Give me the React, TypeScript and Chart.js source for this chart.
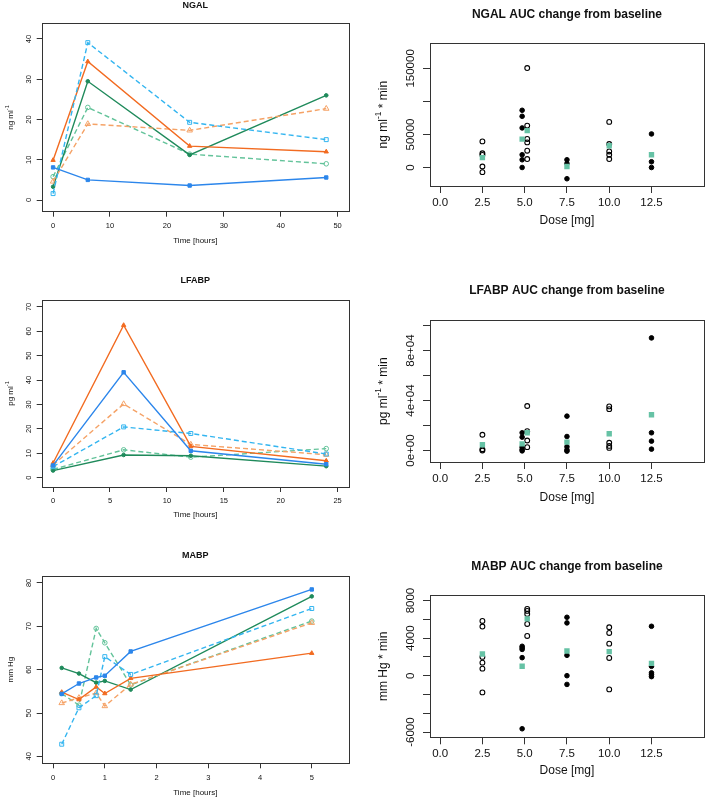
import React, { useEffect, useRef } from "react";
import { Chart, registerables } from "chart.js";

Chart.register(...registerables);

const FONT = "'Liberation Sans', Arial, Helvetica, sans-serif";

// ---------------- NGAL time course ----------------
const ngalTime = [0, 6.1, 24, 48];
const ngalBlueSolid = [8.1, 5.0, 3.6, 5.6];
const ngalCyanDashed = [1.6, 39.1, 19.3, 15.0];
const ngalOrangeSolid = [9.9, 34.4, 13.4, 12.0];
const ngalOrangeDashed = [4.6, 18.9, 17.3, 22.7];
const ngalGreenSolid = [3.3, 29.5, 11.2, 26.0];
const ngalGreenDashed = [5.8, 23.0, 11.4, 9.0];
const ngalXTicks = [0, 10, 20, 30, 40, 50];
const ngalYTicks = [0, 10, 20, 30, 40];
const ngalYLabels = ["0", "10", "20", "30", "40"];

// ---------------- LFABP time course ----------------
const lfabpTime = [0, 6.2, 12.1, 24];
const lfabpBlueSolid = [5.0, 43.2, 11.0, 5.5];
const lfabpCyanDashed = [4.5, 20.8, 18.1, 9.7];
const lfabpOrangeSolid = [6.0, 62.5, 12.8, 6.9];
const lfabpOrangeDashed = [5.2, 30.2, 13.6, 9.4];
const lfabpGreenSolid = [2.9, 9.3, 9.0, 4.7];
const lfabpGreenDashed = [3.4, 11.4, 8.4, 11.9];
const lfabpXTicks = [0, 5, 10, 15, 20, 25];
const lfabpYTicks = [0, 10, 20, 30, 40, 50, 60, 70];
const lfabpYLabels = ["0", "10", "20", "30", "40", "50", "60", "70"];

// ---------------- MABP time course ----------------
const mabpTime = [0.167, 0.5, 0.833, 1, 1.5, 5];
const mabpBlueSolid = [54.4, 56.8, 58.2, 58.6, 64.2, 78.5];
const mabpCyanDashed = [42.8, 51.2, 54.0, 63.0, 58.9, 74.1];
const mabpOrangeSolid = [54.8, 53.1, 56.0, 54.5, 58.0, 63.8];
const mabpOrangeDashed = [52.3, 53.5, 54.6, 51.6, 56.6, 70.8];
const mabpGreenSolid = [60.4, 59.1, 57.0, 57.4, 55.4, 76.9];
const mabpGreenDashed = [54.5, 51.8, 69.5, 66.2, 56.5, 71.2];
const mabpXTicks = [0, 1, 2, 3, 4, 5];
const mabpYTicks = [40, 50, 60, 70, 80];
const mabpYLabels = ["40", "50", "60", "70", "80"];

// ---------------- AUC scatter panels ----------------
const doseTicks = [0, 2.5, 5, 7.5, 10, 12.5];

const ngalAucOpenDose = [2.5, 2.5, 2.5, 2.5, 2.5, 5.15, 5.15, 5.15, 5.15, 5.15, 5.15, 10, 10, 10, 10, 10];
const ngalAucOpenVal = [39500, 21500, 19000, 1500, -7000, 150500, 63400, 43200, 38000, 25400, 12800, 69000, 35600, 24300, 19300, 12800];
const ngalAucFilledDose = [4.85, 4.85, 4.85, 4.85, 4.85, 4.85, 7.5, 7.5, 7.5, 12.5, 12.5, 12.5];
const ngalAucFilledVal = [86600, 77500, 59900, 19300, 11700, 0, 11700, 6000, -17000, 50800, 8700, 0];
const ngalAucMeanDose = [2.5, 4.85, 5.15, 7.5, 10, 12.5];
const ngalAucMeanVal = [15000, 43000, 55800, 1500, 33000, 19300];
const ngalAucYTicks = [0, 50000, 100000, 150000];
const ngalAucYLabels = ["0", "50000", "", "150000"];

const lfabpAucOpenDose = [2.5, 2.5, 2.5, 5.15, 5.15, 5.15, 5.15, 10, 10, 10, 10, 10];
const lfabpAucOpenVal = [12600, 1000, 0, 35600, 15500, 8000, 2700, 35300, 33100, 6200, 3700, 2100];
const lfabpAucFilledDose = [4.85, 4.85, 4.85, 4.85, 4.85, 7.5, 7.5, 7.5, 7.5, 7.5, 12.5, 12.5, 12.5, 12.5];
const lfabpAucFilledVal = [14200, 10700, 2700, 800, -300, 27500, 11200, 3000, 500, -500, 90100, 14200, 7500, 1100];
const lfabpAucMeanDose = [2.5, 4.85, 5.15, 7.5, 10, 12.5];
const lfabpAucMeanVal = [4600, 5300, 14200, 6700, 13400, 28600];
const lfabpAucYTicks = [0, 20000, 40000, 60000, 80000, 100000];
const lfabpAucYLabels = ["0e+00", "", "4e+04", "", "8e+04", ""];

const mabpAucOpenDose = [2.5, 2.5, 2.5, 2.5, 2.5, 2.5, 5.15, 5.15, 5.15, 5.15, 5.15, 10, 10, 10, 10, 10];
const mabpAucOpenVal = [5830, 5230, 2000, 1390, 750, -1780, 7110, 6900, 6580, 5510, 4230, 5160, 4550, 3410, 1890, -1460];
const mabpAucFilledDose = [4.85, 4.85, 4.85, 4.85, 4.85, 7.5, 7.5, 7.5, 7.5, 7.5, 12.5, 12.5, 12.5, 12.5, 12.5];
const mabpAucFilledVal = [3130, 2960, 2800, 1920, -5650, 6220, 5620, 2170, 0, -930, 5260, 1000, 300, 100, -100];
const mabpAucMeanDose = [2.5, 4.85, 5.15, 7.5, 10, 12.5];
const mabpAucMeanVal = [2310, 1000, 6050, 2630, 2560, 1310];
const mabpAucYTicks = [-6000, -4000, -2000, 0, 2000, 4000, 6000, 8000];
const mabpAucYLabels = ["-6000", "", "", "0", "", "4000", "", "8000"];

// ---------------- styling ----------------
const C_BLUE = "#2C86EB";
const C_CYAN = "#33B5F0";
const C_ORANGE = "#F26B21";
const C_ORANGE_L = "#F5A266";
const C_GREEN = "#1F8A5B";
const C_GREEN_L = "#63C39A";
const C_MEAN = "#66C2A5";

type Part = { t: string; sup?: boolean };

const pts = (xs: number[], ys: number[]) => xs.map((x, i) => ({ x, y: ys[i] }));

function lineDs(xs: number[], ys: number[], color: string, dashed: boolean, style: string, filled: boolean, r: number) {
  return {
    data: pts(xs, ys),
    showLine: true,
    borderColor: color,
    backgroundColor: color,
    borderWidth: 1.4,
    borderDash: dashed ? [5, 3] : [],
    pointStyle: style,
    pointRadius: r,
    pointBorderColor: color,
    pointBackgroundColor: filled ? color : "rgba(0,0,0,0)",
    pointBorderWidth: 1,
    tension: 0,
  };
}

function aucDs(openD: number[], openV: number[], filledD: number[], filledV: number[], meanD: number[], meanV: number[]) {
  return [
    {
      data: pts(meanD, meanV),
      pointStyle: "rect",
      pointRadius: 3.8,
      pointBackgroundColor: C_MEAN,
      pointBorderColor: C_MEAN,
      pointBorderWidth: 0,
    },
    {
      data: pts(filledD, filledV),
      pointStyle: "circle",
      pointRadius: 2.3,
      pointBackgroundColor: "#000",
      pointBorderColor: "#000",
      pointBorderWidth: 1,
    },
    {
      data: pts(openD, openV),
      pointStyle: "circle",
      pointRadius: 2.4,
      pointBackgroundColor: "rgba(0,0,0,0)",
      pointBorderColor: "#000",
      pointBorderWidth: 1.1,
    },
  ];
}

type PanelCfg = {
  left: number; top: number; w: number; h: number;
  box: { l: number; t: number; r: number; b: number };
  xMin: number; xMax: number; yMin: number; yMax: number;
  xTicks: number[]; yTicks: number[]; yLabels: string[];
  xFmt: (v: number) => string;
  datasets: any[];
  title: string; xTitle: string; yTitle: Part[];
  titleSize: number; axisSize: number; tickSize: number;
  titleGap: number; xTitleGap: number; yTitleX: number; yTickGap: number;
  tickLen: number; xTickPad: number;
};

function drawRich(ctx: CanvasRenderingContext2D, parts: Part[], cx: number, cy: number, size: number, rotate: boolean, bold = false) {
  ctx.save();
  ctx.translate(cx, cy);
  if (rotate) ctx.rotate(-Math.PI / 2);
  const fontFor = (p: Part) => `${bold ? "bold " : ""}${p.sup ? size * 0.7 : size}px ${FONT}`;
  const widths = parts.map((p) => {
    ctx.font = fontFor(p);
    return ctx.measureText(p.t).width;
  });
  const total = widths.reduce((a, b) => a + b, 0);
  let x = -total / 2;
  ctx.textBaseline = "middle";
  ctx.textAlign = "left";
  ctx.fillStyle = "#111";
  parts.forEach((p, i) => {
    ctx.font = fontFor(p);
    ctx.fillText(p.t, x, p.sup ? -size * 0.4 : 0);
    x += widths[i];
  });
  ctx.restore();
}

function buildConfig(cfg: PanelCfg): any {
  const L = cfg.box.l;
  const T = cfg.box.t;
  const R = cfg.w - cfg.box.r;
  const B = cfg.h - cfg.box.b;
  const decor = {
    id: "decor",
    afterDraw(chart: any) {
      const ctx: CanvasRenderingContext2D = chart.ctx;
      const a = chart.chartArea;
      const ys = chart.scales.y;
      ctx.save();
      ctx.strokeStyle = "#333";
      ctx.lineWidth = 1;
      ctx.strokeRect(Math.round(a.left) + 0.5, Math.round(a.top) + 0.5, Math.round(a.right - a.left), Math.round(a.bottom - a.top));
      const cx = (a.left + a.right) / 2;
      const cy = (a.top + a.bottom) / 2;
      drawRich(ctx, [{ t: cfg.title }], cx, a.top - cfg.titleGap, cfg.titleSize, false, true);
      drawRich(ctx, [{ t: cfg.xTitle }], cx, a.bottom + cfg.xTitleGap, cfg.axisSize, false);
      drawRich(ctx, cfg.yTitle, cfg.yTitleX, cy, cfg.axisSize, true);
      cfg.yTicks.forEach((v, i) => {
        const lab = cfg.yLabels[i];
        if (!lab) return;
        const py = ys.getPixelForValue(v);
        drawRich(ctx, [{ t: lab }], a.left - cfg.yTickGap, py, cfg.tickSize, true);
      });
      ctx.restore();
    },
  };
  const grid = {
    display: true,
    drawOnChartArea: false,
    drawTicks: true,
    tickLength: cfg.tickLen,
    color: "#333",
    tickColor: "#333",
    lineWidth: 1,
  };
  return {
    type: "scatter",
    data: { datasets: cfg.datasets },
    options: {
      responsive: false,
      animation: false,
      events: [],
      layout: { padding: { top: T, right: R, left: 0, bottom: 0 } },
      plugins: { legend: { display: false }, tooltip: { enabled: false }, title: { display: false } },
      scales: {
        x: {
          type: "linear",
          position: "bottom",
          min: cfg.xMin,
          max: cfg.xMax,
          afterBuildTicks: (s: any) => { s.ticks = cfg.xTicks.map((v) => ({ value: v })); },
          afterFit: (s: any) => { s.height = B; },
          grid,
          border: { display: false },
          ticks: {
            autoSkip: false,
            minRotation: 0,
            maxRotation: 0,
            padding: cfg.xTickPad,
            color: "#111",
            font: { family: FONT, size: cfg.tickSize },
            callback: (v: any) => cfg.xFmt(Number(v)),
          },
        },
        y: {
          type: "linear",
          position: "left",
          min: cfg.yMin,
          max: cfg.yMax,
          afterBuildTicks: (s: any) => { s.ticks = cfg.yTicks.map((v) => ({ value: v })); },
          afterFit: (s: any) => { s.width = L; },
          grid,
          border: { display: false },
          ticks: { display: false },
        },
      },
    },
    plugins: [decor],
  };
}

const leftText = { titleSize: 9, axisSize: 8, tickSize: 7.5, yTitleX: 11, yTickGap: 12.4, tickLen: 5, xTickPad: 4.8, xTitleGap: 29 };
const rightText = { titleSize: 12, axisSize: 12, tickSize: 11.5, yTitleX: 29.3, yTickGap: 18.7, tickLen: 7, xTickPad: 2.8, titleGap: 28.5 };
const intFmt = (v: number) => String(v);
const doseFmt = (v: number) => v.toFixed(1);

function timeSeries(t: number[], b: number[], c: number[], o: number[], od: number[], g: number[], gd: number[]) {
  return [
    lineDs(t, b, C_BLUE, false, "rect", true, 2.4),
    lineDs(t, c, C_CYAN, true, "rect", false, 2.8),
    lineDs(t, o, C_ORANGE, false, "triangle", true, 2.5),
    lineDs(t, od, C_ORANGE_L, true, "triangle", false, 3.2),
    lineDs(t, g, C_GREEN, false, "circle", true, 1.8),
    lineDs(t, gd, C_GREEN_L, true, "circle", false, 2.3),
  ];
}

const panels: PanelCfg[] = [
  {
    ...leftText,
    left: 0, top: 0, w: 354, h: 250,
    box: { l: 41.7, t: 23.3, r: 349, b: 211.7 },
    xMin: -2, xMax: 52, yMin: -2.9, yMax: 43.9,
    xTicks: ngalXTicks, yTicks: ngalYTicks, yLabels: ngalYLabels, xFmt: intFmt,
    datasets: timeSeries(ngalTime, ngalBlueSolid, ngalCyanDashed, ngalOrangeSolid, ngalOrangeDashed, ngalGreenSolid, ngalGreenDashed),
    title: "NGAL", xTitle: "Time [hours]", yTitle: [{ t: "ng ml" }, { t: "-1", sup: true }],
    titleGap: 17.3,
  },
  {
    ...rightText,
    left: 354, top: 0, w: 355, h: 250,
    box: { l: 76, t: 43.3, r: 353, b: 186 },
    xMin: -0.6, xMax: 15.6, yMin: -28000, yMax: 188000,
    xTicks: doseTicks, yTicks: ngalAucYTicks, yLabels: ngalAucYLabels, xFmt: doseFmt,
    datasets: aucDs(ngalAucOpenDose, ngalAucOpenVal, ngalAucFilledDose, ngalAucFilledVal, ngalAucMeanDose, ngalAucMeanVal),
    title: "NGAL AUC change from baseline", xTitle: "Dose [mg]", yTitle: [{ t: "ng ml" }, { t: "-1", sup: true }, { t: " * min" }],
    xTitleGap: 35,
  },
  {
    ...leftText,
    left: 0, top: 250, w: 354, h: 270,
    box: { l: 41.7, t: 50, r: 350, b: 237 },
    xMin: -1, xMax: 26, yMin: -3.84, yMax: 72.84,
    xTicks: lfabpXTicks, yTicks: lfabpYTicks, yLabels: lfabpYLabels, xFmt: intFmt,
    datasets: timeSeries(lfabpTime, lfabpBlueSolid, lfabpCyanDashed, lfabpOrangeSolid, lfabpOrangeDashed, lfabpGreenSolid, lfabpGreenDashed),
    title: "LFABP", xTitle: "Time [hours]", yTitle: [{ t: "pg ml" }, { t: "-1", sup: true }],
    titleGap: 19, xTitleGap: 28,
  },
  {
    ...rightText,
    left: 354, top: 250, w: 355, h: 270,
    box: { l: 76, t: 70.3, r: 353, b: 212 },
    xMin: -0.6, xMax: 15.6, yMin: -9200, yMax: 104200,
    xTicks: doseTicks, yTicks: lfabpAucYTicks, yLabels: lfabpAucYLabels, xFmt: doseFmt,
    datasets: aucDs(lfabpAucOpenDose, lfabpAucOpenVal, lfabpAucFilledDose, lfabpAucFilledVal, lfabpAucMeanDose, lfabpAucMeanVal),
    title: "LFABP AUC change from baseline", xTitle: "Dose [mg]", yTitle: [{ t: "pg ml" }, { t: "-1", sup: true }, { t: " * min" }],
    xTitleGap: 36, titleGap: 29.6,
  },
  {
    ...leftText,
    left: 0, top: 520, w: 354, h: 278,
    box: { l: 41.7, t: 56, r: 350, b: 243.3 },
    xMin: -0.22, xMax: 5.72, yMin: 38.4, yMax: 81.6,
    xTicks: mabpXTicks, yTicks: mabpYTicks, yLabels: mabpYLabels, xFmt: intFmt,
    datasets: timeSeries(mabpTime, mabpBlueSolid, mabpCyanDashed, mabpOrangeSolid, mabpOrangeDashed, mabpGreenSolid, mabpGreenDashed),
    title: "MABP", xTitle: "Time [hours]", yTitle: [{ t: "mm Hg" }],
    titleGap: 20, xTitleGap: 29.4,
  },
  {
    ...rightText,
    left: 354, top: 520, w: 355, h: 278,
    box: { l: 76, t: 75.3, r: 353, b: 217.3 },
    xMin: -0.6, xMax: 15.6, yMin: -6560, yMax: 8560,
    xTicks: doseTicks, yTicks: mabpAucYTicks, yLabels: mabpAucYLabels, xFmt: doseFmt,
    datasets: aucDs(mabpAucOpenDose, mabpAucOpenVal, mabpAucFilledDose, mabpAucFilledVal, mabpAucMeanDose, mabpAucMeanVal),
    title: "MABP AUC change from baseline", xTitle: "Dose [mg]", yTitle: [{ t: "mm Hg * min" }],
    xTitleGap: 33.4,
  },
] as PanelCfg[];

function Panel({ cfg }: { cfg: PanelCfg }) {
  const ref = useRef<HTMLCanvasElement>(null);
  useEffect(() => {
    if (!ref.current) return;
    const chart = new Chart(ref.current, buildConfig(cfg));
    return () => chart.destroy();
  }, [cfg]);
  return (
    <canvas
      ref={ref}
      width={cfg.w}
      height={cfg.h}
      style={{ position: "absolute", left: cfg.left, top: cfg.top, width: cfg.w, height: cfg.h }}
    />
  );
}

export default function App() {
  return (
    <div style={{ position: "absolute", left: 0, top: 0, width: 709, height: 798, background: "#fff", overflow: "hidden" }}>
      {panels.map((p, i) => (
        <Panel key={i} cfg={p} />
      ))}
    </div>
  );
}
